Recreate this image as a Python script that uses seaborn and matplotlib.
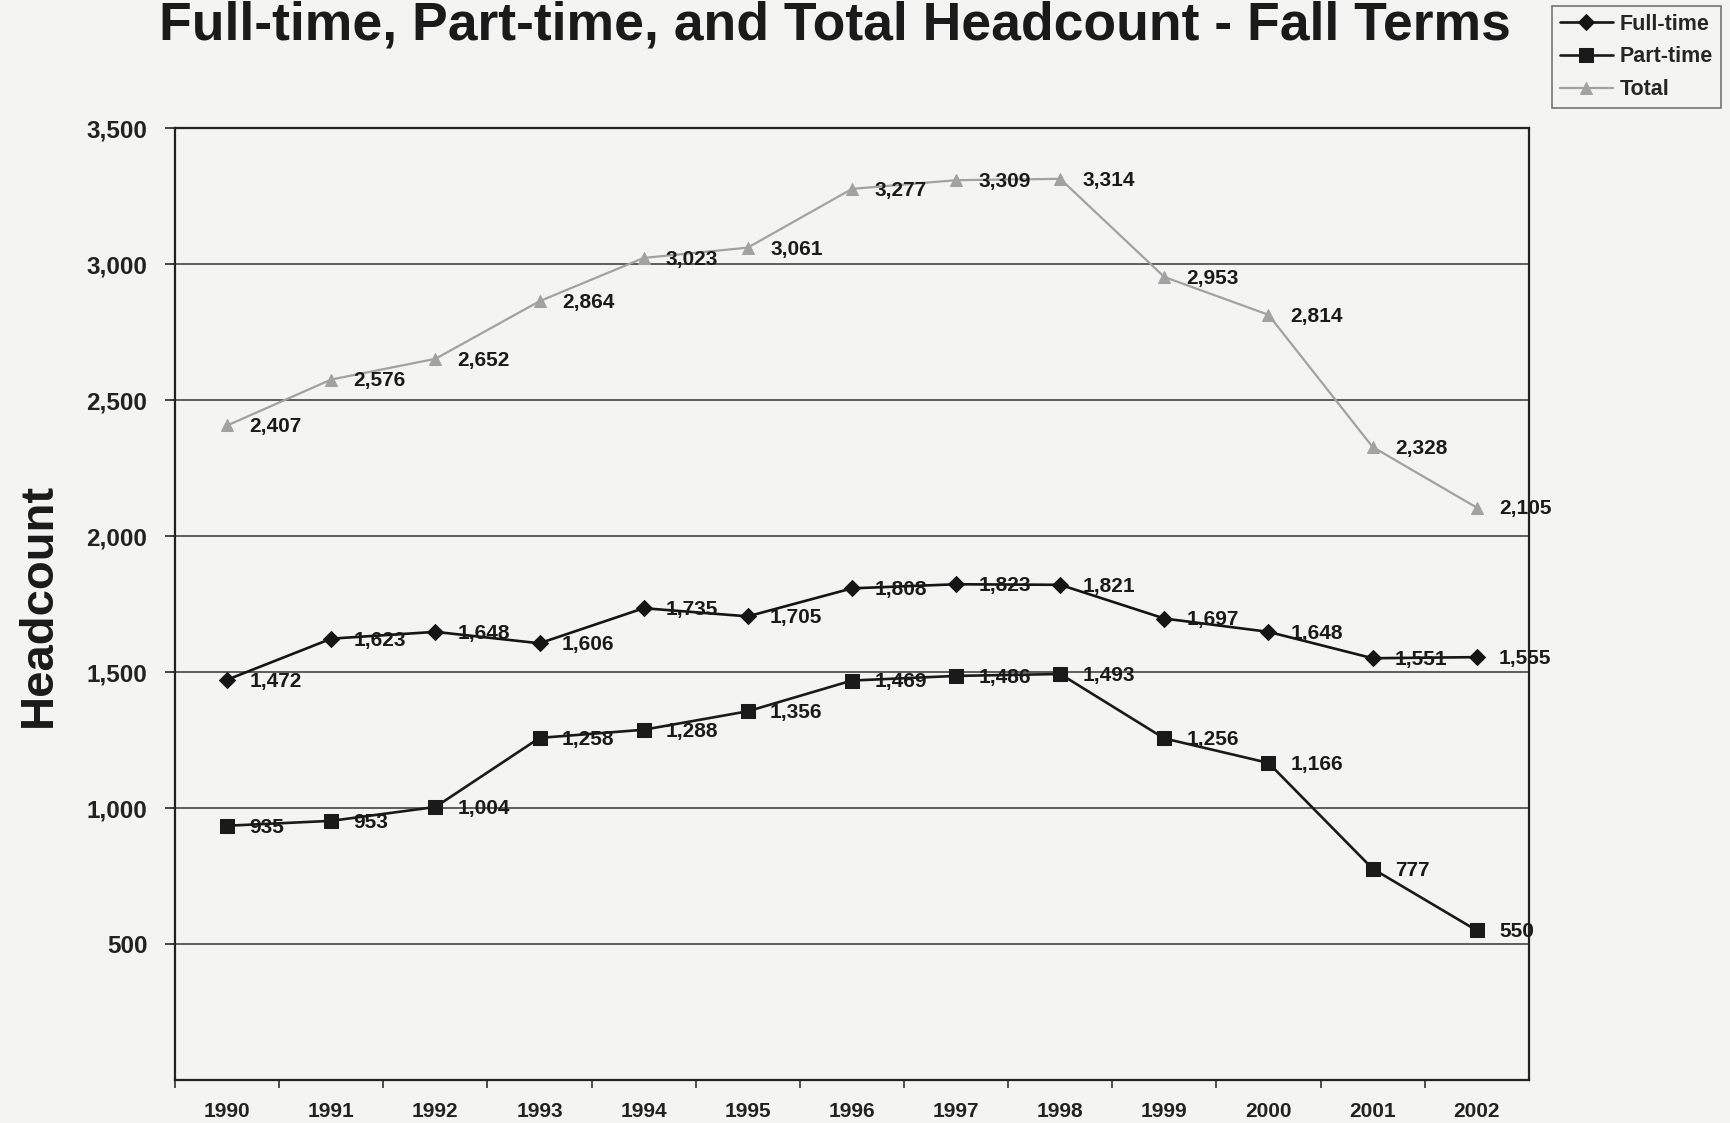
import matplotlib
matplotlib.use("Agg")
import matplotlib.pyplot as plt
import seaborn as sns
import pandas as pd
from matplotlib.ticker import FixedLocator, FuncFormatter

years = [1990, 1991, 1992, 1993, 1994, 1995, 1996, 1997, 1998, 1999, 2000, 2001, 2002]
full_time = [1472, 1623, 1648, 1606, 1735, 1705, 1808, 1823, 1821, 1697, 1648, 1551, 1555]
part_time = [935, 953, 1004, 1258, 1288, 1356, 1469, 1486, 1493, 1256, 1166, 777, 550]
total = [2407, 2576, 2652, 2864, 3023, 3061, 3277, 3309, 3314, 2953, 2814, 2328, 2105]
series_names = ["Full-time", "Part-time", "Total"]
y_ticks = [500, 1000, 1500, 2000, 2500, 3000, 3500]

bg = "#f4f4f2"
sns.set_theme(style="white")
plt.rcParams['font.family'] = ['Liberation Sans', 'DejaVu Sans']
plt.rcParams['font.weight'] = 'bold'

rows = []
for name, vals in zip(series_names, [full_time, part_time, total]):
    for y, v in zip(years, vals):
        rows.append({"Year": y, "Headcount": v, "Series": name})
df = pd.DataFrame(rows)

fig = plt.figure(figsize=(17.3, 11.23), dpi=100, facecolor=bg)
ax = fig.add_axes([0.1012, 0.0383, 0.7825, 0.8475])
ax.set_facecolor(bg)

palette = {"Full-time": "#151515", "Part-time": "#1a1a1a", "Total": "#a2a2a2"}
markers = {"Full-time": "D", "Part-time": "s", "Total": "^"}
sizes = {"Full-time": 8, "Part-time": 10, "Total": 9}
widths = {"Full-time": 1.9, "Part-time": 1.9, "Total": 1.6}

for name in series_names:
    sub = df[df["Series"] == name]
    sns.lineplot(data=sub, x="Year", y="Headcount", ax=ax, color=palette[name],
                 marker=markers[name], markersize=sizes[name], linewidth=widths[name],
                 markeredgecolor=palette[name], label=name, zorder=3)

for name in series_names:
    sub = df[df["Series"] == name]
    for x, v in zip(sub["Year"], sub["Headcount"]):
        ax.annotate(f"{v:,}", (x, v), xytext=(16, -1), textcoords="offset points",
                    ha="left", va="center", fontsize=15, fontweight="bold",
                    color="#1a1a1a", zorder=4)

ax.set_xlim(years[0] - 0.5, years[-1] + 0.5)
ax.set_ylim(0, 3500)
ax.set_xticks(years)
ax.set_xticklabels([str(y) for y in years], fontsize=15, fontweight="bold")
ax.xaxis.set_minor_locator(FixedLocator([y + 0.5 for y in years[:-1]] + [years[0] - 0.5]))
ax.tick_params(axis="x", which="major", length=0, pad=16, colors="#222222")
ax.tick_params(axis="x", which="minor", length=6, width=1.2, direction="out", bottom=True, color="#333333")
ax.set_yticks(y_ticks)
ax.yaxis.set_major_formatter(FuncFormatter(lambda v, p: f"{int(v):,}"))
ax.tick_params(axis="y", length=7, width=1.2, left=True, direction="out", labelsize=17.5, pad=13, colors="#222222")
for lab in ax.get_yticklabels():
    lab.set_fontweight("bold")
ax.yaxis.grid(True, color="#444444", linewidth=1.2)
ax.xaxis.grid(False)
ax.set_xlabel("")
ax.set_ylabel("")
for s in ax.spines.values():
    s.set_visible(True)
    s.set_color("#222222")
    s.set_linewidth(1.6)

fig.text(835 / 1730, 1 - 40 / 1123, "Full-time, Part-time, and Total Headcount - Fall Terms",
         ha="center", va="baseline", fontsize=38.5, fontweight="bold", color="#1a1a1a")
fig.text(39 / 1730, 0.461, "Headcount", rotation=90, ha="center", va="center",
         fontsize=34, fontweight="bold", color="#1a1a1a")

leg = ax.legend(loc="upper left", bbox_to_anchor=(1552 / 1730, 1 - 6 / 1123),
                bbox_transform=fig.transFigure, frameon=True, fancybox=False,
                fontsize=15.5, handlelength=2.5, borderpad=0.35, labelspacing=0.55,
                handletextpad=0.3, borderaxespad=0)
leg.get_frame().set_edgecolor("#555555")
leg.get_frame().set_facecolor(bg)
leg.get_frame().set_linewidth(1.2)
for t in leg.get_texts():
    t.set_fontweight("bold")

fig.savefig("out.png", dpi=100, facecolor=bg)
